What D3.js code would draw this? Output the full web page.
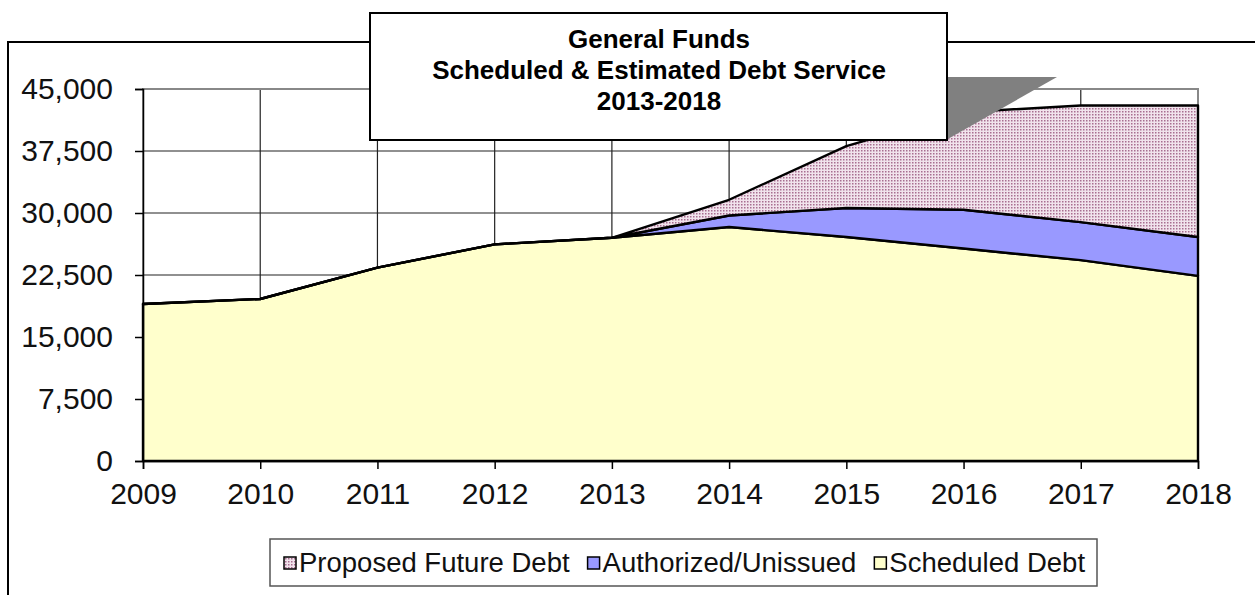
<!DOCTYPE html>
<html>
<head>
<meta charset="utf-8">
<script src="https://cdn.jsdelivr.net/npm/d3@7"></script>
<style>
  html, body { margin: 0; padding: 0; background: #fff; }
  svg { display: block; font-family: "Liberation Sans", Arial, sans-serif; }
</style>
</head>
<body>
<svg id="chart" width="1255" height="595"></svg>
<script>
// ---- data ----
const years = [2009, 2010, 2011, 2012, 2013, 2014, 2015, 2016, 2017, 2018];
const scheduledDebt = [19000, 19600, 23400, 26200, 27000, 28300, 27100, 25700, 24300, 22400];
const authorizedUnissued = [0, 0, 0, 0, 0, 1400, 3500, 4700, 4600, 4700];
const proposedFutureDebt = [0, 0, 0, 0, 0, 1900, 7500, 11800, 14100, 15900];
const yTicks = [0, 7500, 15000, 22500, 30000, 37500, 45000];
const seriesNames = ["Scheduled Debt", "Authorized/Unissued", "Proposed Future Debt"];
const legendOrder = ["Proposed Future Debt", "Authorized/Unissued", "Scheduled Debt"];
const titleLines = ["General Funds", "Scheduled & Estimated Debt Service", "2013-2018"];

const svg = d3.select("#chart");
const W = 1255, H = 595;
const plot = { left: 143, right: 1198, top: 89, bottom: 461 };

// pattern for proposed debt
const defs = svg.append("defs");
const pat = defs.append("pattern").attr("id", "dots").attr("patternUnits", "userSpaceOnUse")
  .attr("width", 3).attr("height", 3);
pat.append("rect").attr("width", 3).attr("height", 3).attr("fill", "#f1e3ec");
pat.append("rect").attr("x", 0).attr("y", 0).attr("width", 1.5).attr("height", 1.5).attr("fill", "#a86e90");

const colors = {
  "Scheduled Debt": "#ffffcc",
  "Authorized/Unissued": "#9999ff",
  "Proposed Future Debt": "url(#dots)"
};

const table = years.map((yr, i) => ({
  year: yr,
  "Scheduled Debt": scheduledDebt[i],
  "Authorized/Unissued": authorizedUnissued[i],
  "Proposed Future Debt": proposedFutureDebt[i]
}));

const x = d3.scalePoint().domain(years).range([plot.left, plot.right]);
const y = d3.scaleLinear().domain([0, 45000]).range([plot.bottom, plot.top]);

// chart frame
svg.append("path").attr("d", `M8,${H + 2} L8,42 L${W + 2},42`)
  .attr("fill", "none").attr("stroke", "#000").attr("stroke-width", 2);

// gridlines
const grid = svg.append("g");
grid.selectAll("line.h").data(yTicks).join("line")
  .attr("x1", plot.left).attr("x2", plot.right)
  .attr("y1", d => y(d)).attr("y2", d => y(d))
  .attr("stroke", "#222").attr("stroke-width", 1.2);
grid.selectAll("line.v").data(years).join("line")
  .attr("x1", d => x(d)).attr("x2", d => x(d))
  .attr("y1", plot.top).attr("y2", plot.bottom)
  .attr("stroke", "#222").attr("stroke-width", 1.2);
// plot border (gray)
svg.append("rect").attr("x", plot.left).attr("y", plot.top)
  .attr("width", plot.right - plot.left).attr("height", plot.bottom - plot.top)
  .attr("fill", "none").attr("stroke", "#888").attr("stroke-width", 2);

// stacked areas
const stack = d3.stack().keys(seriesNames);
const layers = stack(table);
const area = d3.area().x(d => x(d.data.year)).y0(d => y(d[0])).y1(d => y(d[1]));
svg.append("g").selectAll("path").data(layers).join("path")
  .attr("d", area)
  .attr("fill", d => colors[d.key])
  .attr("stroke", "#000").attr("stroke-width", 2.4).attr("stroke-linejoin", "round");

// axes
const yAxis = d3.axisLeft(y).tickValues(yTicks).tickFormat(d3.format(",")).tickSize(8).tickPadding(22);
const gy = svg.append("g").attr("transform", `translate(${plot.left},0)`).call(yAxis);
gy.select(".domain").attr("stroke", "#000").attr("stroke-width", 1.5);
gy.selectAll(".tick line").attr("stroke", "#000").attr("stroke-width", 1.5);
gy.selectAll("text").attr("font-size", 30).attr("fill", "#111")
  .attr("font-family", "'Liberation Sans', Arial, sans-serif");

const xAxis = d3.axisBottom(x).tickSize(8).tickPadding(14);
const gx = svg.append("g").attr("transform", `translate(0,${plot.bottom})`).call(xAxis);
gx.select(".domain").attr("stroke", "#000").attr("stroke-width", 1.5);
gx.selectAll(".tick line").attr("stroke", "#000").attr("stroke-width", 1.5);
gx.selectAll("text").attr("font-size", 30).attr("fill", "#111")
  .attr("font-family", "'Liberation Sans', Arial, sans-serif");

// title box with gray extrusion
svg.append("polygon")
  .attr("points", "946,77 1057,77 946,140")
  .attr("fill", "#808080");
svg.append("rect").attr("x", 370).attr("y", 13).attr("width", 577).attr("height", 127)
  .attr("fill", "#fff").attr("stroke", "#000").attr("stroke-width", 2);
svg.append("g").selectAll("text").data(titleLines).join("text")
  .attr("x", 659).attr("y", (d, i) => 48 + i * 31)
  .attr("text-anchor", "middle").attr("font-size", 26).attr("font-weight", "bold")
  .attr("fill", "#000").text(d => d);

// legend
const lg = svg.append("g");
lg.append("rect").attr("x", 270).attr("y", 539).attr("width", 827).attr("height", 47)
  .attr("fill", "#fff").attr("stroke", "#555").attr("stroke-width", 1.5);
const items = lg.selectAll("g.item").data(legendOrder).join("g").attr("class", "item");
items.append("rect").attr("width", 12).attr("height", 12).attr("y", 557)
  .attr("fill", d => colors[d]).attr("stroke", "#000").attr("stroke-width", 1.5);
items.append("text").attr("y", 572).attr("font-size", 27.5).attr("fill", "#111").text(d => d);
let cx = 284;
items.each(function () {
  const g = d3.select(this);
  g.select("rect").attr("x", cx);
  g.select("text").attr("x", cx + 15);
  const w = g.select("text").node().getComputedTextLength();
  cx += 15 + w + 18;
});
</script>
</body>
</html>
